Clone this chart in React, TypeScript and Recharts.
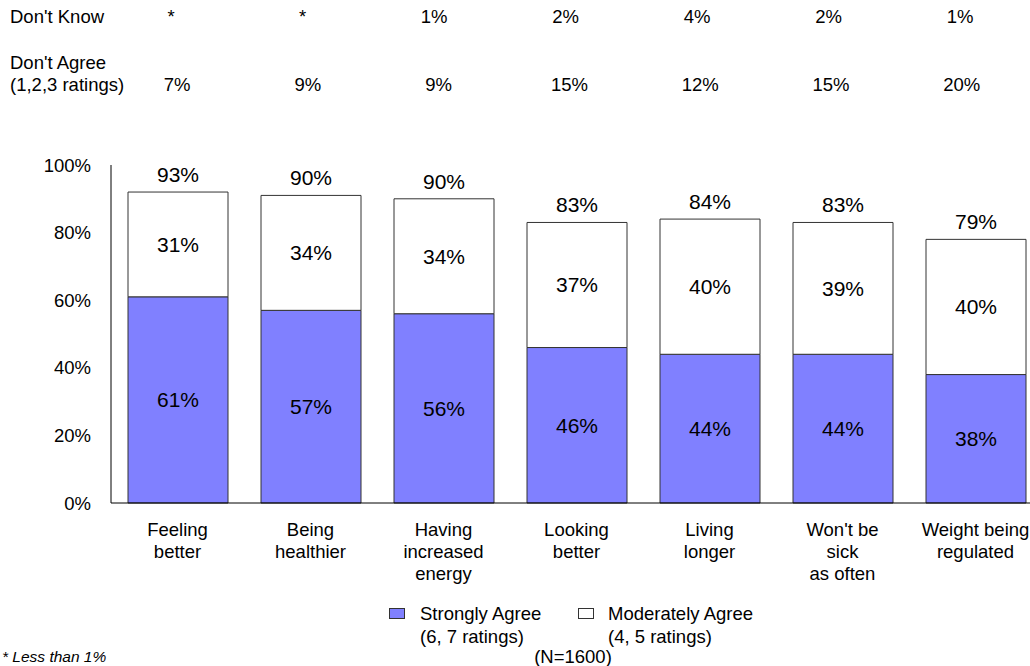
import React from 'react';
import { BarChart, Bar, XAxis, YAxis, LabelList, Legend } from 'recharts';

// categories shown under the bars ("\n" = line break)
const categories = [
  'Feeling\nbetter',
  'Being\nhealthier',
  'Having\nincreased\nenergy',
  'Looking\nbetter',
  'Living\nlonger',
  "Won't be\nsick\nas often",
  'Weight being\nregulated',
];
const stronglyAgree = [61, 57, 56, 46, 44, 44, 38];
const moderatelyAgree = [31, 34, 34, 37, 40, 39, 40];
const totalAgree = [93, 90, 90, 83, 84, 83, 79];
const dontKnow = ['*', '*', '1%', '2%', '4%', '2%', '1%'];
const dontAgree = ['7%', '9%', '9%', '15%', '12%', '15%', '20%'];
const yTicks = [0, 20, 40, 60, 80, 100];

const BLUE = '#8080ff';
const EDGE = '#333333';
const FONT = '"Liberation Sans", Arial, sans-serif';

const data = categories.map((name, i) => ({
  name,
  strong: stronglyAgree[i],
  moderate: moderatelyAgree[i],
  total: totalAgree[i],
}));

const CategoryTick = (props: any) => {
  const { x, y, payload } = props;
  const lines = String(payload.value).split('\n');
  return (
    <g>
      {lines.map((ln, i) => (
        <text key={i} x={x} y={y + 27 + i * 22} dy="0.35em" textAnchor="middle" fill="#000" fontSize={18.5}>
          {ln}
        </text>
      ))}
    </g>
  );
};

const TotalLabel = (props: any) => {
  const { x, y, width, value } = props;
  return (
    <text x={x + width / 2} y={y - 17.5} dy="0.35em" textAnchor="middle" fill="#000" fontSize={21}>
      {value}%
    </text>
  );
};

const txt = (s: string, left: number, top: number, extra: React.CSSProperties = {}, center = true) => (
  <div
    key={s + left + top}
    style={{
      position: 'absolute',
      left,
      top,
      transform: center ? 'translate(-50%, -50%)' : 'translate(0, -50%)',
      whiteSpace: 'nowrap',
      lineHeight: 1,
      fontSize: 18.5,
      ...extra,
    }}
  >
    {s}
  </div>
);

const renderLegend = () => (
  <div style={{ position: 'relative', width: 420, height: 70, fontSize: 18.5, color: '#000' }}>
    <div style={{ position: 'absolute', left: 0, top: 5, width: 14, height: 9, background: BLUE, border: `1px solid ${EDGE}` }} />
    {txt('Strongly Agree', 31, 11, {}, false)}
    {txt('(6, 7 ratings)', 31, 34, {}, false)}
    <div style={{ position: 'absolute', left: 189, top: 5, width: 14, height: 9, background: '#fff', border: `1px solid ${EDGE}` }} />
    {txt('Moderately Agree', 219, 11, {}, false)}
    {txt('(4, 5 ratings)', 219, 34, {}, false)}
    {txt('(N=1600)', 184, 54)}
  </div>
);

export default function App() {
  return (
    <div
      style={{
        position: 'absolute',
        left: 0,
        top: 0,
        width: 1030,
        height: 666,
        overflow: 'hidden',
        background: '#fff',
        fontFamily: FONT,
        color: '#000',
      }}
    >
      {/* header table above the chart */}
      {txt("Don't Know", 10, 17, {}, false)}
      {txt("Don't Agree", 10, 63, {}, false)}
      {txt('(1,2,3 ratings)', 10, 85, {}, false)}
      {dontKnow.map((v, i) => txt(v, 171 + i * 131.5, 17))}
      {dontAgree.map((v, i) => txt(v, 177 + i * 130.8, 85))}

      <BarChart
        width={1060}
        height={666}
        data={data}
        margin={{ top: 165, right: 18, bottom: 63, left: 51 }}
        barSize={100}
        style={{ fontFamily: FONT }}
      >
        <XAxis
          dataKey="name"
          height={100}
          interval={0}
          tickLine={false}
          tickSize={0}
          tickMargin={0}
          axisLine={{ stroke: '#000' }}
          tick={<CategoryTick />}
        />
        <YAxis
          width={60}
          domain={[0, 100]}
          ticks={yTicks}
          tickFormatter={(v) => `${v}%`}
          tickLine={false}
          tickSize={6}
          tickMargin={14}
          axisLine={{ stroke: '#000' }}
          tick={{ fill: '#000', fontSize: 18.5 }}
        />
        <Legend
          layout="horizontal"
          verticalAlign="middle"
          align="center"
          content={renderLegend}
          wrapperStyle={{ left: 389, top: 603, width: 420, height: 70 }}
        />
        <Bar dataKey="strong" stackId="a" fill={BLUE} stroke={EDGE} strokeWidth={1} isAnimationActive={false}>
          <LabelList dataKey="strong" position="center" fill="#000" fontSize={21} formatter={(v: any) => `${v}%`} />
        </Bar>
        <Bar dataKey="moderate" stackId="a" fill="#fff" stroke={EDGE} strokeWidth={1} isAnimationActive={false}>
          <LabelList dataKey="moderate" position="center" fill="#000" fontSize={21} formatter={(v: any) => `${v}%`} />
          <LabelList dataKey="total" content={<TotalLabel />} />
        </Bar>
      </BarChart>

      {txt('* Less than 1%', 2, 657, { fontStyle: 'italic', fontSize: 15.5 }, false)}
    </div>
  );
}
